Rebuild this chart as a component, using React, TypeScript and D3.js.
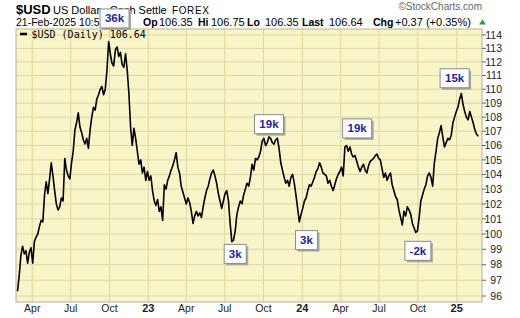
import React from "react";
import * as d3 from "d3";

// ---- data ----
const seriesStart = "2022-02-25";
const stepDays = 4;
const usdClose = [
  96.3, 97.3, 98.6, 99.2, 98.7, 98.9, 98.1, 98.8, 99.1, 98.1,
  99.5, 99.8, 100.0, 100.5, 100.9, 100.8, 102.6, 103.5, 102.7, 103.7,
  104.8, 103.9, 102.9, 102.0, 101.6, 101.8, 102.4, 102.2, 105.1, 104.3,
  103.9, 103.7, 104.8, 105.6, 107.1, 107.6, 108.3, 107.3, 106.9, 106.4,
  106.1, 106.5, 105.8, 107.1, 108.0, 108.7, 108.5, 109.3, 109.6, 110.0,
  110.2, 109.6, 110.0, 111.4, 113.5, 112.6, 111.9, 111.7, 112.9, 113.1,
  112.4, 112.7, 111.8, 111.6, 112.6, 111.4, 109.7, 107.3, 106.0, 107.2,
  106.5, 105.6, 104.7, 105.0, 104.1, 104.5, 103.6, 104.2, 103.6, 103.9,
  102.9, 102.2, 101.9, 102.3, 101.5, 101.8, 100.9, 103.3, 103.0, 103.6,
  103.9, 104.3, 104.6, 105.0, 105.5, 104.5, 104.1, 103.2, 102.8, 102.4,
  102.0, 102.4, 102.1, 101.5, 100.7, 101.2, 101.5, 101.2, 101.4, 101.1,
  101.8, 102.4, 102.9, 103.2, 103.7, 104.1, 104.3, 103.9, 103.4, 102.7,
  102.2, 101.7, 102.2, 102.7, 102.9, 102.2, 100.7, 99.5, 99.6, 100.2,
  101.3, 101.8, 102.2, 102.0, 102.6, 103.0, 103.4, 103.2, 103.8, 104.7,
  104.3, 105.1, 105.0, 105.2, 105.6, 106.3, 106.5, 106.0, 106.2, 106.6,
  106.5, 106.2, 106.1, 106.4, 106.5, 105.8, 104.8, 104.3, 103.8, 103.4,
  103.6, 103.2, 103.8, 104.0, 103.4, 102.6, 101.7, 100.8, 101.3, 101.7,
  102.2, 102.4, 102.9, 103.3, 103.2, 103.5, 103.8, 104.2, 104.4, 104.8,
  104.5, 104.1, 104.0, 103.9, 103.4, 103.6, 103.2, 102.9, 103.3, 103.7,
  104.0, 104.2, 104.5, 103.9, 105.9, 106.0, 105.6, 105.9, 105.4, 105.2,
  105.3, 104.9, 104.5, 104.2, 104.5, 104.7, 104.3, 104.1, 104.6, 104.9,
  105.0, 105.1, 105.3, 105.4, 105.1, 105.0, 104.4, 103.8, 104.1, 103.6,
  103.9, 104.1, 103.3, 102.9, 102.5, 102.3, 101.6, 101.1, 100.6, 101.5,
  101.2, 101.8, 101.6, 101.3, 100.7, 100.4, 100.1, 100.2, 101.1, 102.2,
  102.6, 103.0, 103.3, 103.9, 104.1, 103.8, 103.2, 104.8, 105.6, 106.5,
  106.9, 107.4, 106.6, 105.9, 106.2, 106.5, 106.4, 106.7, 107.6, 108.0,
  108.4, 108.7, 109.3, 109.7, 108.9, 108.4, 108.0, 107.8, 108.4, 108.0,
  107.6, 107.1, 106.8, 106.64,
];

const yTickValues = [96, 97, 98, 99, 100, 101, 102, 103, 104, 105, 106, 107, 108, 109, 110, 111, 112, 113, 114];
const xTickDates = [
  "2022-04-01", "2022-07-01", "2022-10-01", "2023-01-01",
  "2023-04-01", "2023-07-01", "2023-10-01", "2024-01-01",
  "2024-04-01", "2024-07-01", "2024-10-01", "2025-01-01",
];
const xTickLabels = ["Apr", "Jul", "Oct", "23", "Apr", "Jul", "Oct", "24", "Apr", "Jul", "Oct", "25"];

const noteLabels = ["36k", "19k", "3k", "3k", "19k", "-2k", "15k"];
const noteDates = ["2022-10-13", "2023-10-14", "2023-07-26", "2024-01-11", "2024-05-10", "2024-10-01", "2024-12-27"];
const noteValues = [115.25, 107.5, 98.7, 99.6, 107.2, 98.9, 110.8];

const headerLabels = ["Op", "Hi", "Lo", "Last", "Chg"];
const headerValues = ["106.35", "106.75", "106.35", "106.64", "+0.37 (+0.35%)"];

const FONT = "'Liberation Sans', Arial, sans-serif";

export default function App() {
  const W = 520;
  const H = 318;
  const plot = { left: 16, right: 482, top: 29, bottom: 302 };
  const parse = d3.timeParse("%Y-%m-%d");

  const x = d3
    .scaleTime()
    .domain([new Date(2023, 0, 1), new Date(2025, 0, 1)])
    .range([148.3, 456.7]);
  const y = d3.scaleLog().domain([96, 114]).range([296, 35]);

  const start = parse(seriesStart) as Date;
  const data = usdClose.map((v, i) => ({ date: d3.timeDay.offset(start, i * stepDays), value: v }));
  const line = d3
    .line<{ date: Date; value: number }>()
    .x((d) => x(d.date))
    .y((d) => y(d.value));

  const gridColor = "#dcd8a2";
  const labelX = [143, 198, 247, 302, 373];
  const valueX = [159, 211, 265, 329, 395];

  return (
    <svg
      width={W}
      height={H}
      style={{ position: "absolute", left: 0, top: 0, background: "#fff" }}
      fontFamily={FONT}
    >
      <rect x={0} y={0} width={W} height={H} fill="#fff" />
      <defs>
        <clipPath id="plotclip">
          <rect x={plot.left} y={plot.top} width={plot.right - plot.left} height={plot.bottom - plot.top} />
        </clipPath>
      </defs>
      <rect
        x={plot.left}
        y={plot.top}
        width={plot.right - plot.left}
        height={plot.bottom - plot.top}
        fill="#f8f5c8"
      />
      {yTickValues.map((v) => (
        <line key={"hg" + v} x1={plot.left} x2={plot.right} y1={y(v)} y2={y(v)} stroke={gridColor} strokeWidth={1} />
      ))}
      {xTickDates.map((d) => {
        const xx = x(parse(d) as Date);
        return <line key={"vg" + d} x1={xx} x2={xx} y1={plot.top} y2={plot.bottom} stroke={gridColor} strokeWidth={1} />;
      })}
      <rect
        x={plot.left}
        y={plot.top}
        width={plot.right - plot.left}
        height={plot.bottom - plot.top}
        fill="none"
        stroke="#b4b194"
        strokeWidth={1}
      />
      {/* y axis */}
      {yTickValues.map((v) => (
        <g key={"yt" + v}>
          <line x1={plot.right} x2={plot.right + 4} y1={y(v)} y2={y(v)} stroke="#666" />
          <text x={502} y={y(v) + 3.8} fontSize={10.5} textAnchor="end" fill="#222">
            {v}
          </text>
        </g>
      ))}
      {/* x axis */}
      {xTickDates.map((d, i) => {
        const xx = x(parse(d) as Date);
        const isYear = /^\d+$/.test(xTickLabels[i]);
        return (
          <text
            key={"xt" + d}
            x={xx}
            y={312}
            fontSize={isYear ? 11 : 10.5}
            fontWeight={isYear ? "bold" : "normal"}
            textAnchor="middle"
            fill="#222"
          >
            {xTickLabels[i]}
          </text>
        );
      })}
      {/* price line */}
      <path
        d={line(data) || ""}
        fill="none"
        stroke="#000"
        strokeWidth={1.6}
        strokeLinejoin="round"
        clipPath="url(#plotclip)"
      />
      {/* legend */}
      <line x1={20} x2={27} y1={34} y2={34} stroke="#000" strokeWidth={2.5} />
      <text x={31.5} y={37.6} fontSize={10} fontFamily="'DejaVu Sans Mono', monospace" fill="#000">
        $USD (Daily) 106.64
      </text>
      {/* header */}
      <text x={16} y={14} fontSize={13} fontWeight="bold" fill="#000">$USD</text>
      <text x={53} y={14} fontSize={11} fill="#000">US Dollar - Cash Settle</text>
      <text x={172} y={14} fontSize={10} fill="#000" letterSpacing={0.6}>FOREX</text>
      <text x={482} y={10} fontSize={10} fill="#666" textAnchor="end">©StockCharts.com</text>
      <text x={16} y={25.5} fontSize={10.5} fill="#000">21-Feb-2025 10:5</text>
      {headerLabels.map((lab, i) => (
        <g key={"h" + lab}>
          <text x={labelX[i]} y={25.5} fontSize={10.5} fontWeight="bold" fill="#000">{lab}</text>
          <text x={valueX[i]} y={25.5} fontSize={11} fill="#000">{headerValues[i]}</text>
        </g>
      ))}
      <path d="M479,24.5 L482.5,19.5 L486,24.5 Z" fill="#2e9e3a" />
      {/* annotations */}
      {noteLabels.map((lab, i) => {
        const cx = x(parse(noteDates[i]) as Date);
        const cy = y(noteValues[i]);
        const w = lab.length === 2 ? 22 : lab.startsWith("-") ? 26 : 29;
        const h = 19;
        return (
          <g key={"n" + i}>
            <rect x={cx - w / 2 + 2} y={cy - h / 2 + 2} width={w} height={h} fill="#a8a8a8" />
            <rect x={cx - w / 2} y={cy - h / 2} width={w} height={h} fill="#fff" stroke="#8c8c8c" strokeWidth={1} />
            <text x={cx} y={cy + 4} fontSize={11.5} fontWeight="bold" textAnchor="middle" fill="#2323a8">
              {lab}
            </text>
          </g>
        );
      })}
    </svg>
  );
}
